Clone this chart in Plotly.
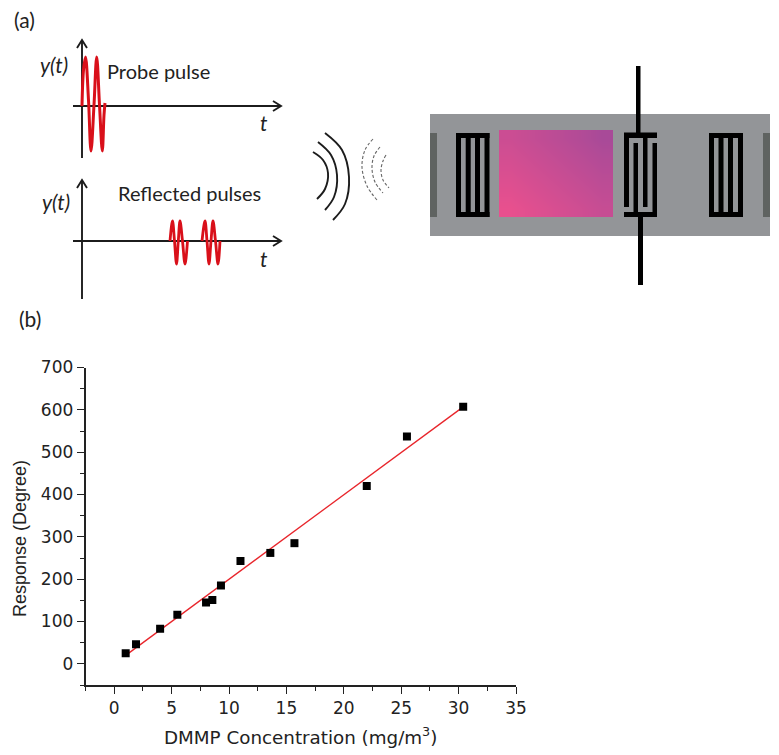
import plotly.graph_objects as go

W, H = 779, 755
# Main chart data
conc = [1, 1.9, 4, 5.5, 8, 8.55, 9.3, 11, 13.6, 15.7, 22, 25.5, 30.4]
resp = [25, 46, 83, 116, 145, 151, 185, 243, 262, 285, 420, 537, 607]
fit_x = [1, 30.4]
fit_y = [20, 607]
x_ticks = [0, 5, 10, 15, 20, 25, 30, 35]
y_ticks = [0, 100, 200, 300, 400, 500, 600, 700]

# Schematic data, in picture pixels
probe_x = [82, 83.5, 85.5, 88.5, 91, 94, 96.7, 99.5, 102.3, 104, 105]
probe_y = [106, 70, 57, 100, 151, 105, 57, 105, 151, 115, 103]
echo1_x = [170, 172.5, 174.5, 176.5, 178.3, 180, 182.5, 185, 187.5]
echo2_x = [202, 205, 207, 209, 211, 213, 215.5, 218, 220]
echo_y = [241, 221, 241, 264, 241, 221, 241, 264, 241]
arcs_solid = [
    ([313, 323, 328, 325, 317], [152, 160, 173, 189, 199]),
    ([318, 331, 337, 334, 325], [142, 155, 175, 197, 210]),
    ([325, 342, 349, 345, 333], [133, 150, 177, 204, 220]),
]
arcs_dashed = [
    ([373, 365, 362, 367, 377], [139, 150, 167, 186, 200]),
    ([380, 374, 372, 375, 383], [147, 156, 168, 182, 193]),
    ([386, 383, 381, 383, 389], [155, 161, 170, 180, 188]),
]
pink_x = [499, 522, 545, 568, 591, 613]
pink_y = [130, 147, 165, 182, 200, 217]
pink_z = [
    [0.45, 0.58, 0.71, 0.84, 1.0],
    [0.34, 0.47, 0.60, 0.73, 0.86],
    [0.23, 0.36, 0.49, 0.62, 0.75],
    [0.12, 0.25, 0.38, 0.51, 0.64],
    [0.0, 0.14, 0.27, 0.40, 0.53],
]
idt_left = [456, 465.7, 475, 484.5]
idt_right = [709, 718.5, 728, 738]
GREY = "#939598"
DARK = "#5f6361"
RED = "#d9101a"
INK = "#1c1c1c"

fig = go.Figure()

# Main chart
fig.add_trace(go.Scatter(x=fit_x, y=fit_y, mode="lines", line=dict(color="#e8252b", width=1.3),
                         xaxis="x", yaxis="y", showlegend=False))
fig.add_trace(go.Scatter(x=conc, y=resp, mode="markers",
                         marker=dict(symbol="square", size=8, color="black"),
                         xaxis="x", yaxis="y", showlegend=False))

# Gradient patch
fig.add_trace(go.Heatmap(x=pink_x, y=pink_y, z=pink_z, zsmooth="best", showscale=False,
                         colorscale=[[0, "#e8508e"], [1, "#a84a98"]], zmin=0, zmax=1,
                         xaxis="x2", yaxis="y2", hoverinfo="skip"))


def line_trace(xs, ys, color="black", width=2, dash="solid", shape="linear"):
    fig.add_trace(go.Scatter(x=xs, y=ys, mode="lines",
                             line=dict(color=color, width=width, dash=dash, shape=shape, smoothing=1),
                             xaxis="x2", yaxis="y2", showlegend=False, hoverinfo="skip"))


# Diagram axes
for y0, y1, yh in [(158, 40, 106), (299, 180, 241)]:
    line_trace([82, 82], [y0, y1 + 1], color=INK, width=1.9)
    line_trace([77, 82, 87], [y1 + 8, y1, y1 + 8], color=INK, width=1.9)
    line_trace([73, 280], [yh, yh], color=INK, width=1.9)
    line_trace([273, 281, 273], [yh - 5, yh, yh + 5], color=INK, width=1.9)

line_trace(probe_x, probe_y, color=RED, width=3, shape="spline")
line_trace(echo1_x, echo_y, color=RED, width=2.8, shape="spline")
line_trace(echo2_x, echo_y, color=RED, width=2.8, shape="spline")
for xs, ys in arcs_solid:
    line_trace(xs, ys, color=INK, width=1.9, shape="spline")
for xs, ys in arcs_dashed:
    line_trace(xs, ys, color="#666666", width=1.1, dash="3px,2px", shape="spline")

# Device shapes
shapes = []


def rect(x0, y0, x1, y1, color, layer="above"):
    shapes.append(dict(type="rect", xref="x2", yref="y2", x0=x0, x1=x1, y0=y0, y1=y1,
                       fillcolor=color, line=dict(width=0), layer=layer))


rect(430, 114, 770, 236, GREY, "below")
rect(430, 133, 437, 217, DARK)
rect(763, 133, 770, 217, DARK)
for group in (idt_left, idt_right):
    for x in group:
        rect(x, 133, x + 5, 217, "black")
    rect(group[0], 133, group[-1] + 5, 138, "black")
    rect(group[0], 212, group[-1] + 5, 217, "black")

# Centre transducer
rect(636, 66, 640.5, 134, "black")
rect(638, 216, 643, 285, "black")
rect(624, 132.5, 657, 138, "black")   # top bar
rect(624, 212, 657, 217, "black")     # bottom bar
rect(624, 133, 629, 207, "black")     # outer left, from top
rect(652.5, 143, 657, 217, "black")   # outer right, from bottom
rect(633.5, 143, 638, 217, "black")   # inner from bottom
rect(643, 133, 647.5, 207, "black")   # inner from top

tick_font = dict(family="DejaVu Sans, sans-serif", size=17, color="#222222")
LABEL = "Lato, sans-serif"
annots = [
    dict(text="(a)", x=12, y=19, xanchor="left", size=21, ital=False),
    dict(text="(b)", x=17, y=318, xanchor="left", size=21, ital=False),
    dict(text="Probe pulse", x=105, y=71, xanchor="left", size=20, ital=False),
    dict(text="Reflected pulses", x=116, y=193, xanchor="left", size=20, ital=False),
    dict(text="y(t)", x=38, y=64, xanchor="left", size=21, ital=True),
    dict(text="y(t)", x=40, y=201, xanchor="left", size=21, ital=True),
    dict(text="t", x=264, y=122, xanchor="center", size=21, ital=True),
    dict(text="t", x=264, y=258, xanchor="center", size=21, ital=True),
]
annotations = []
for a in annots:
    txt = f"<i>{a['text']}</i>" if a["ital"] else a["text"]
    annotations.append(dict(text=txt, x=a["x"], y=a["y"], xref="x2", yref="y2", xanchor=a["xanchor"],
                            yanchor="middle", showarrow=False,
                            font=dict(family=LABEL, size=a["size"], color="#222222")))
annotations.append(dict(text="DMMP Concentration (mg/m<sup>3</sup>)", x=300, y=736, xref="x2", yref="y2",
                        xanchor="center", yanchor="middle", showarrow=False,
                        font=dict(family="DejaVu Sans, sans-serif", size=18.3, color="#222222")))
annotations.append(dict(text="Response (Degree)", x=20, y=539, xref="x2", yref="y2", textangle=-90,
                        xanchor="center", yanchor="middle", showarrow=False,
                        font=dict(family="Liberation Sans, Arial, sans-serif", size=18, color="#222222")))

common = dict(showgrid=False, zeroline=False, showline=True, linecolor="#222222", linewidth=1.6,
              ticks="outside", tickcolor="#222222", tickwidth=1.4, ticklen=7, tickfont=tick_font,
              automargin=False)
fig.update_layout(
    width=W, height=H, margin=dict(l=0, r=0, t=0, b=0, pad=0), autosize=False,
    paper_bgcolor="white", plot_bgcolor="rgba(0,0,0,0)", showlegend=False,
    shapes=shapes, annotations=annotations,
    xaxis=dict(domain=[85.5 / W, 516 / W], range=[-2.5, 35], tickvals=x_ticks, anchor="y",
               minor=dict(dtick=2.5, tick0=0, ticks="outside", ticklen=4,
                          tickcolor="#222222", tickwidth=1.2), **common),
    yaxis=dict(domain=[1 - 685 / H, 1 - 367.5 / H], range=[-50, 700], tickvals=y_ticks, anchor="x",
               minor=dict(dtick=50, tick0=0, ticks="outside", ticklen=4,
                          tickcolor="#222222", tickwidth=1.2), **common),
    xaxis2=dict(domain=[0, 1], range=[0, W], visible=False, anchor="y2", fixedrange=True, automargin=False),
    yaxis2=dict(domain=[0, 1], range=[H, 0], visible=False, anchor="x2", fixedrange=True, automargin=False),
)
page_fix = ("document.documentElement.style.overflow='hidden';document.body.style.margin='0';"
            "var g=document.getElementById('{plot_id}');g.style.position='absolute';"
            "g.style.left='0';g.style.top='0';")
fig.write_html("out.html", config=dict(displayModeBar=False), post_script=page_fix)
